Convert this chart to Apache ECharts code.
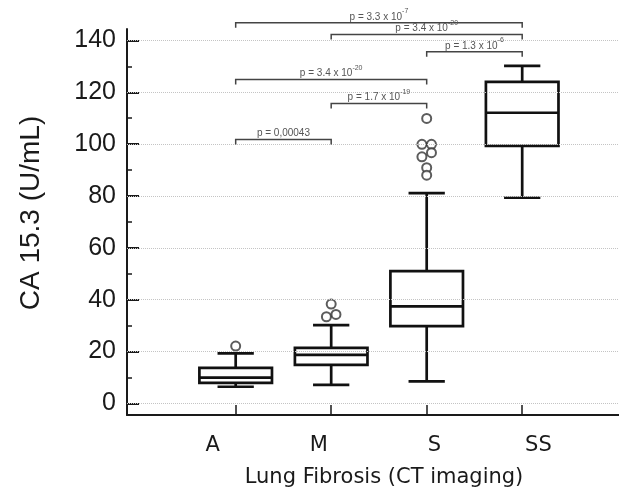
<!DOCTYPE html>
<html>
<head>
<meta charset="UTF-8">
<title>CA 15.3 by lung fibrosis</title>
<script src="https://cdn.jsdelivr.net/npm/echarts@6/dist/echarts.min.js"></script>
</head>
<body style="margin:0">
<div id="main" style="width:619px;height:496px;"></div>
<script>
// groups and box statistics
var groups = ['A', 'M', 'S', 'SS'];
var groupPos = [1, 2, 3, 4];
var lowerWhisker = [6.4, 7.1, 8.5, 79.3];
var q1 = [7.9, 14.8, 29.8, 99.3];
var median = [9.9, 18.7, 37.4, 112.1];
var q3 = [13.7, 21.4, 51.0, 124.0];
var upperWhisker = [19.3, 30.2, 81.1, 130.2];

// outliers, x is group position with the small jitter seen in the figure
var outlierX = [1.0, 2.0, 1.95, 2.05, 3.0, 2.95, 3.05, 3.05, 2.95, 3.0, 3.0];
var outlierY = [22.1, 38.3, 33.4, 34.3, 109.9, 99.9, 99.9, 96.7, 95.1, 90.9, 88.0];

// pairwise comparisons
var compFrom = [1, 2, 3, 1, 2, 1];
var compTo = [4, 4, 4, 3, 3, 2];
var compLevel = [146.8, 142.3, 135.6, 124.9, 115.7, 101.8];
var pBase = ['p = 3.3 x 10', 'p = 3.4 x 10', 'p = 1.3 x 10', 'p = 3.4 x 10', 'p = 1.7 x 10', 'p = 0,00043'];
var pExp = ['-7', '-20', '-6', '-20', '-19', ''];

var yTicks = [0, 20, 40, 60, 80, 100, 120, 140];
var yMinorTicks = [10, 30, 50, 70, 90, 110, 130];

var boxData = groups.map(function (g, i) {
    return [groupPos[i], lowerWhisker[i], q1[i], median[i], q3[i], upperWhisker[i]];
});
var outlierData = outlierX.map(function (x, i) { return [x, outlierY[i]]; });
var compData = compFrom.map(function (f, i) { return [f, compTo[i], compLevel[i], i]; });

var ink = '#111';

function renderBox(params, api) {
    var x = api.value(0);
    var pLo = api.coord([x, api.value(1)]);
    var pQ1 = api.coord([x, api.value(2)]);
    var pMd = api.coord([x, api.value(3)]);
    var pQ3 = api.coord([x, api.value(4)]);
    var pHi = api.coord([x, api.value(5)]);
    var half = api.size([0.38, 0])[0];
    var cap = half / 2;
    var cx = pLo[0];
    var st = { stroke: ink, lineWidth: 2.7, fill: null };
    return {
        type: 'group',
        children: [
            { type: 'line', shape: { x1: cx, y1: pQ1[1], x2: cx, y2: pLo[1] }, style: st },
            { type: 'line', shape: { x1: cx, y1: pQ3[1], x2: cx, y2: pHi[1] }, style: st },
            { type: 'line', shape: { x1: cx - cap, y1: pLo[1], x2: cx + cap, y2: pLo[1] }, style: st },
            { type: 'line', shape: { x1: cx - cap, y1: pHi[1], x2: cx + cap, y2: pHi[1] }, style: st },
            { type: 'rect', shape: { x: cx - half, y: pQ3[1], width: 2 * half, height: pQ1[1] - pQ3[1] },
              style: { stroke: ink, lineWidth: 2.7, fill: '#fff' } },
            { type: 'line', shape: { x1: cx - half, y1: pMd[1], x2: cx + half, y2: pMd[1] }, style: st }
        ]
    };
}

function renderComp(params, api) {
    var a = api.coord([api.value(0), api.value(2)]);
    var b = api.coord([api.value(1), api.value(2)]);
    var i = api.value(3);
    var drop = 5;
    var txt = '{b|' + pBase[i] + '}' + (pExp[i] ? '{s|' + pExp[i] + '}' : '');
    return {
        type: 'group',
        children: [
            { type: 'polyline',
              shape: { points: [[a[0], a[1] + drop], [a[0], a[1]], [b[0], b[1]], [b[0], b[1] + drop]] },
              style: { stroke: '#444', lineWidth: 1.5, fill: null } },
            { type: 'text', x: (a[0] + b[0]) / 2, y: a[1] - 1,
              style: {
                  text: txt, align: 'center', verticalAlign: 'bottom',
                  rich: {
                      b: { fontSize: 10, fontFamily: 'Liberation Sans', fill: '#555', lineHeight: 14, verticalAlign: 'bottom' },
                      s: { fontSize: 7, fontFamily: 'Liberation Sans', fill: '#555', verticalAlign: 'top' }
                  }
              } }
        ]
    };
}

var myChart = echarts.init(document.getElementById('main'));
var option = {
    animation: false,
    backgroundColor: '#fff',
    grid: { left: 127, top: 29, right: -22, bottom: 81, containLabel: false, outerBoundsMode: 'none' },
    xAxis: {
        type: 'value', min: -0.138, max: 5.244,
        axisLine: { onZero: false, lineStyle: { color: '#1a1a1a', width: 2 } },
        axisTick: { show: true, inside: true, length: 10, customValues: groupPos,
                    lineStyle: { color: '#1a1a1a', width: 1.5 } },
        axisLabel: {
            customValues: [0.76, 1.87, 3.08, 4.17],
            formatter: function (v) { return groups[Math.round(v) - 1]; },
            fontSize: 21, fontFamily: 'DejaVu Sans', color: '#1a1a1a', margin: 20
        },
        splitLine: { show: false },
        name: 'Lung Fibrosis (CT imaging)',
        nameLocation: 'middle', nameGap: 52,
        nameTextStyle: { fontSize: 21, fontFamily: 'DejaVu Sans', color: '#1a1a1a' }
    },
    yAxis: [{
        type: 'value', min: -4.5, max: 144.4,
        axisLine: { show: true, onZero: false, lineStyle: { color: '#1a1a1a', width: 2 } },
        axisTick: { show: true, inside: true, length: 12, customValues: yTicks,
                    lineStyle: { color: '#1a1a1a', width: 2 } },
        axisLabel: { customValues: yTicks, fontSize: 25, fontFamily: 'Liberation Sans',
                     color: '#1a1a1a', margin: 11 },
        splitLine: { show: false },
        name: 'CA 15.3 (U/mL)',
        nameLocation: 'middle', nameGap: 82,
        nameTextStyle: { fontSize: 28, fontFamily: 'Liberation Sans', color: '#1a1a1a',
                         padding: [0, 0, 0, 18] }
    }, {
        type: 'value', min: -4.5, max: 144.4, position: 'left', offset: 0,
        axisLine: { show: false, onZero: false },
        axisTick: { show: true, inside: true, length: 5, customValues: yMinorTicks,
                    lineStyle: { color: '#1a1a1a', width: 1.5 } },
        axisLabel: { show: false },
        splitLine: { show: false }
    }],
    series: [{
        type: 'line', data: [], z: 1, silent: true,
        markLine: {
            silent: true, symbol: ['none', 'none'], label: { show: false },
            lineStyle: { color: '#c4c4c4', type: 'dotted', width: 1 },
            emphasis: { disabled: true },
            data: yTicks.map(function (v) { return { yAxis: v }; })
        }
    }, {
        type: 'custom', renderItem: renderBox, data: boxData, z: 3,
        encode: { x: 0, y: [1, 2, 3, 4, 5] }, silent: true
    }, {
        type: 'scatter', data: outlierData, z: 4, symbol: 'emptyCircle', symbolSize: 9,
        itemStyle: { color: '#333', borderColor: '#333', borderWidth: 1.3 }, silent: true
    }, {
        type: 'custom', renderItem: renderComp, data: compData, z: 5, clip: false,
        encode: { x: [0, 1], y: 2 }, silent: true
    }]
};
myChart.setOption(option);
</script>
</body>
</html>
